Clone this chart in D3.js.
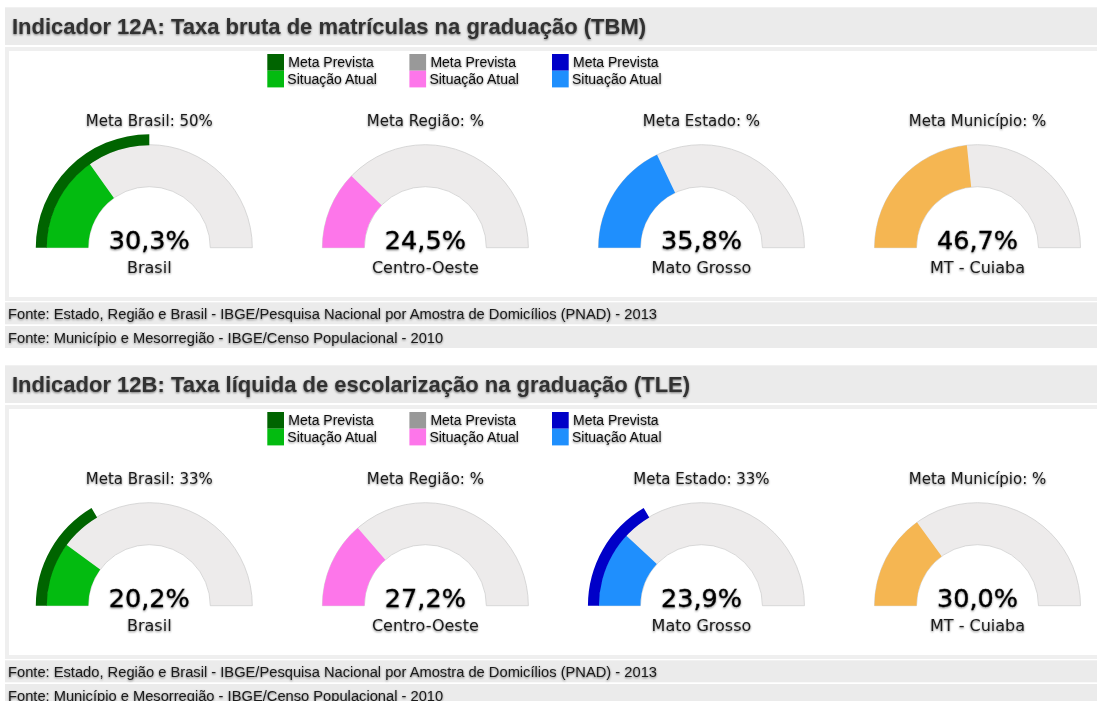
<!DOCTYPE html>
<html>
<head>
<meta charset="utf-8">
<script src="https://cdn.jsdelivr.net/npm/d3@7"></script>
<style>
  html, body { margin: 0; padding: 0; background: #ffffff; }
  svg { display: block; }
</style>
</head>
<body>
<svg id="chart" width="1097" height="701"></svg>
<script>
// ---------------- DATA ----------------
const sectionTitles = [
  "Indicador 12A: Taxa bruta de matrículas na graduação (TBM)",
  "Indicador 12B: Taxa líquida de escolarização na graduação (TLE)"
];
const categories = ["Brasil", "Centro-Oeste", "Mato Grosso", "MT - Cuiaba"];
const metaLabels = ["Meta Brasil", "Meta Região", "Meta Estado", "Meta Município"];
const valuesTBM = [30.3, 24.5, 35.8, 46.7];
const metasTBM  = [50, null, null, null];
const valuesTLE = [20.2, 27.2, 23.9, 30.0];
const metasTLE  = [33, null, 33, null];
const legendMeta = ["Meta Prevista", "Meta Prevista", "Meta Prevista"];
const legendAtual = ["Situação Atual", "Situação Atual", "Situação Atual"];
const footnotes = [
  "Fonte: Estado, Região e Brasil - IBGE/Pesquisa Nacional por Amostra de Domicílios (PNAD) - 2013",
  "Fonte: Município e Mesorregião - IBGE/Censo Populacional - 2010"
];

// ---------------- STYLE ----------------
const valueColors = ["#03bb10", "#fd76ea", "#1f8ffd", "#f5b652"];
const metaColors  = ["#006400", "#999999", "#0000c8", "#999999"];
const gaugeBg = "#edebeb";

const svg = d3.select("#chart");
const defs = svg.append("defs");
const f = defs.append("filter").attr("id", "ts").attr("x", "-10%").attr("y", "-30%").attr("width", "120%").attr("height", "170%");
f.append("feGaussianBlur").attr("in", "SourceAlpha").attr("stdDeviation", 1.1).attr("result", "b");
f.append("feOffset").attr("in", "b").attr("dx", 0).attr("dy", 1).attr("result", "o");
f.append("feComponentTransfer").attr("in", "o").attr("result", "o2")
  .append("feFuncA").attr("type", "linear").attr("slope", 0.5);
const m = f.append("feMerge");
m.append("feMergeNode").attr("in", "o2");
m.append("feMergeNode").attr("in", "SourceGraphic");

const sections = [
  { title: sectionTitles[0], values: valuesTBM, metas: metasTBM },
  { title: sectionTitles[1], values: valuesTLE, metas: metasTLE }
];

const angle = d3.scaleLinear().domain([0, 100]).range([-Math.PI / 2, Math.PI / 2]);
const xPos = d3.scalePoint().domain(categories).range([149.3, 977.5]);

const R = 103, r = 61, RM = 113.5;
const bgArc = d3.arc().innerRadius(r).outerRadius(R).startAngle(-Math.PI / 2).endAngle(Math.PI / 2);
const valArc = d3.arc().innerRadius(r).outerRadius(R).startAngle(-Math.PI / 2).endAngle(d => angle(d));
const metaArc = d3.arc().innerRadius(R - 0.5).outerRadius(RM).startAngle(-Math.PI / 2).endAngle(d => angle(d));

const fmt = v => d3.format(".1f")(v).replace(".", ",") + "%";

sections.forEach((s, si) => {
  const g = svg.append("g").attr("transform", `translate(0,${si * 358})`);

  // header
  g.append("rect").attr("x", 5).attr("y", 7.3).attr("width", 1100).attr("height", 37.7).attr("fill", "#ebebeb");
  g.append("text").attr("x", 12).attr("y", 33.5)
    .attr("font-family", "Liberation Sans, Arial, sans-serif").attr("font-weight", "bold")
    .attr("font-size", 22).attr("fill", "#333").attr("filter", "url(#ts)")
    .text(s.title);

  // panel
  g.append("rect").attr("x", 5).attr("y", 47).attr("width", 1100).attr("height", 254).attr("fill", "#efefef");
  g.append("rect").attr("x", 9).attr("y", 51).attr("width", 1092).attr("height", 246).attr("fill", "#ffffff");

  // legend
  const lx = [267.3, 409.4, 552];
  lx.forEach((x, li) => {
    g.append("rect").attr("x", x).attr("y", 54).attr("width", 16.7).attr("height", 16.7).attr("fill", metaColors[li]);
    g.append("rect").attr("x", x).attr("y", 70.7).attr("width", 16.7).attr("height", 16.7).attr("fill", valueColors[li]);
    g.append("text").attr("x", x + 21).attr("y", 66.7)
      .attr("font-family", "Liberation Sans, Arial, sans-serif").attr("font-size", 14)
      .attr("fill", "#111").attr("filter", "url(#ts)").text(legendMeta[li]);
    g.append("text").attr("x", x + 20).attr("y", 83.5)
      .attr("font-family", "Liberation Sans, Arial, sans-serif").attr("font-size", 14)
      .attr("fill", "#111").attr("filter", "url(#ts)").text(legendAtual[li]);
  });

  // gauges
  categories.forEach((c, i) => {
    const cx = xPos(c), cy = 247.7;
    const gg = g.append("g").attr("transform", `translate(${cx},${cy})`);
    gg.append("path").attr("d", bgArc()).attr("fill", gaugeBg).attr("stroke", "#cfcfcf").attr("stroke-width", 0.8);
    gg.append("path").attr("d", valArc(s.values[i])).attr("fill", valueColors[i]);
    if (s.metas[i] != null) {
      gg.append("path").attr("d", metaArc(s.metas[i])).attr("fill", metaColors[i]);
    }
    const metaTxt = metaLabels[i] + ": " + (s.metas[i] != null ? s.metas[i] : "") + "%";
    gg.append("text").attr("x", 0).attr("y", 125.7 - cy).attr("text-anchor", "middle")
      .attr("font-family", "DejaVu Sans, sans-serif").attr("font-size", 15)
      .attr("fill", "#1a1a1a").attr("filter", "url(#ts)").text(metaTxt);
    gg.append("text").attr("x", 0).attr("y", 249 - cy).attr("text-anchor", "middle")
      .attr("font-family", "DejaVu Sans, sans-serif").attr("font-size", 25.5)
      .attr("fill", "#010101").attr("stroke", "#010101").attr("stroke-width", 0.3)
      .attr("filter", "url(#ts)").text(fmt(s.values[i]));
    gg.append("text").attr("x", 0).attr("y", 272.7 - cy).attr("text-anchor", "middle")
      .attr("font-family", "DejaVu Sans, sans-serif").attr("font-size", 16)
      .attr("fill", "#1a1a1a").attr("filter", "url(#ts)").text(c);
  });

  // footnotes
  const fy = [302.3, 326];
  footnotes.forEach((t, fi) => {
    g.append("rect").attr("x", 5).attr("y", fy[fi]).attr("width", 1100).attr("height", 22).attr("fill", "#ebebeb");
    g.append("text").attr("x", 8).attr("y", fy[fi] + 16.5)
      .attr("font-family", "Liberation Sans, Arial, sans-serif").attr("font-size", 14.7)
      .attr("fill", "#1a1a1a").attr("filter", "url(#ts)").text(t);
  });
});
</script>
</body>
</html>
